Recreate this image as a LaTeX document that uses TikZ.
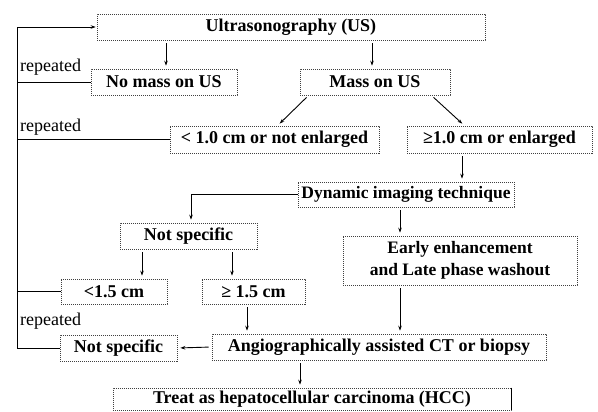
\documentclass[tikz,border=0pt]{standalone}
\usepackage{fontspec}
\setmainfont{Liberation Serif}
\usetikzlibrary{arrows.meta,calc}
\begin{document}
\begin{tikzpicture}[x=1pt,y=-1pt,
  box/.style={draw=black!75, line width=0.6pt, dash pattern=on 1.2pt off 0.8pt,
    inner sep=0pt, align=center, font=\fontsize{18}{20}\selectfont\bfseries},
  lab/.style={inner sep=0pt, font=\fontsize{18}{20}\selectfont},
  arr/.style={line width=0.9pt, -{Stealth[length=5pt,width=3.5pt]}, shorten >=3pt, shorten <=3pt},
  ln/.style={line width=0.9pt}]
\useasboundingbox (0,0) rectangle (598,412);
\node[box, minimum width=388pt, minimum height=26pt] (us) at (291,27) {Ultrasonography (US)};
\node[box, minimum width=146pt, minimum height=26pt] (nomass) at (164,82) {No mass on US};
\node[box, minimum width=150pt, minimum height=26pt] (mass) at (375,82) {Mass on US};
\node[box, minimum width=209pt, minimum height=27pt] (lt10) at (274.5,139.5) {\textless{} 1.0 cm or not enlarged};
\node[box, minimum width=185pt, minimum height=27pt] (ge10) at (499.5,139.5) {≥1.0 cm or enlarged};
\node[box, minimum width=216pt, minimum height=25pt, font=\fontsize{17.5}{19}\selectfont\bfseries] (dyn) at (406,194.5) {Dynamic imaging technique};
\node[box, minimum width=137pt, minimum height=26pt] (ns1) at (188.5,236) {Not specific};
\node[box, minimum width=234pt, minimum height=49pt, font=\fontsize{17.5}{22}\selectfont\bfseries] (early) at (460,260.5) {Early enhancement\\and Late phase washout};
\node[box, minimum width=106pt, minimum height=25pt] (lt15) at (114,291.5) {\textless1.5 cm};
\node[box, minimum width=103pt, minimum height=25pt] (ge15) at (253.5,291.5) {≥ 1.5 cm};
\node[box, minimum width=117pt, minimum height=26pt] (ns2) at (118.5,348) {Not specific};
\node[box, minimum width=334pt, minimum height=26pt] (angio) at (379,347) {Angiographically assisted CT or biopsy};
\node[box, minimum width=398pt, minimum height=22pt] (treat) at (312,399) {Treat as hepatocellular carcinoma (HCC)};
\draw[line width=1.2pt] (treat.north east) -- (treat.south east);
\coordinate (L) at (17,0);
% arrows
\draw[arr] ([xshift=-125pt]us.south) -- ([xshift=-125pt]us.south |- nomass.north);
\draw[arr] ([xshift=81pt]us.south) -- ([xshift=81pt]us.south |- mass.north);
\draw[arr] ([xshift=9pt]mass.south west) -- ([xshift=3pt]lt10.north);
\draw[arr] ([xshift=-19pt]mass.south east) -- ([xshift=-35pt]ge10.north);
\draw[arr] ([xshift=-37.5pt]ge10.south) -- ([xshift=-37.5pt]ge10.south |- dyn.north);
\draw[arr] ([xshift=-6pt]dyn.south) -- ([xshift=-6pt]dyn.south |- early.north);
\draw[arr, shorten <=0pt] (dyn.west) -| ([xshift=2.5pt]ns1.north);
\draw[arr] ([xshift=-46.5pt]ns1.south) -- ([xshift=-46.5pt]ns1.south |- lt15.north);
\draw[arr] ([xshift=43.5pt]ns1.south) -- ([xshift=43.5pt]ns1.south |- ge15.north);
\draw[arr] ([xshift=-6.5pt]ge15.south) -- ([xshift=-6.5pt]ge15.south |- angio.north);
\draw[arr] ([xshift=-60pt]early.south) -- ([xshift=-60pt]early.south |- angio.north);
\draw[arr] (angio.west) -- (ns2.east);
\draw[arr] ([xshift=-79pt]angio.south) -- ([xshift=-79pt]angio.south |- treat.north);
% feedback
\draw[ln, -{Stealth[length=5pt,width=3.5pt]}, shorten >=1pt] (ns2.west) -- (ns2.west -| L) |- (us.west);
\draw[ln] (nomass.west) -- (nomass.west -| L);
\draw[ln] (lt10.west) -- (lt10.west -| L);
\draw[ln] (lt15.west) -- (lt15.west -| L);
\node[lab, anchor=south west] (r1) at ($(nomass.west -| L)+(3,-6)$) {repeated};
\node[lab, anchor=south west] (r2) at ($(lt10.west -| L)+(3,-4)$) {repeated};
\node[lab, anchor=south west] (r3) at ($(ns2.west -| L)+(3,-18)$) {repeated};
\end{tikzpicture}
\end{document}
